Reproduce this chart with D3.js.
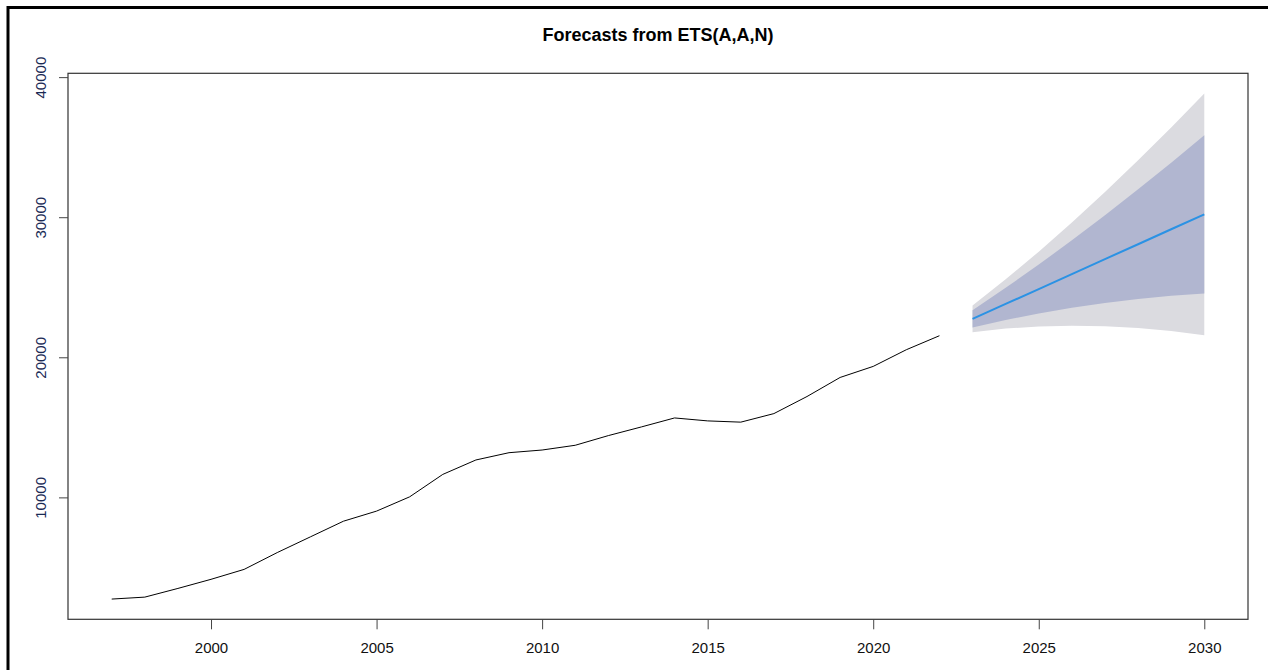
<!DOCTYPE html>
<html>
<head>
<meta charset="utf-8">
<script src="https://cdn.jsdelivr.net/npm/d3@7"></script>
<style>
  html, body { margin: 0; padding: 0; background: #ffffff; }
  svg { display: block; }
  text { font-family: "Liberation Sans", Arial, sans-serif; }
</style>
</head>
<body>
<svg id="chart" width="1268" height="670"></svg>
<script>
// Observed annual series
const years = [1997, 1998, 1999, 2000, 2001, 2002, 2003, 2004, 2005, 2006, 2007, 2008, 2009,
               2010, 2011, 2012, 2013, 2014, 2015, 2016, 2017, 2018, 2019, 2020, 2021, 2022];
const observed = [2740, 2880, 3500, 4150, 4860, 6060, 7180, 8300, 9020, 10040, 11640, 12670, 13190,
                  13380, 13720, 14410, 15030, 15670, 15460, 15370, 15980, 17200, 18560, 19350, 20540, 21540];

// Point forecasts and prediction intervals
const fcYears = [2023, 2024, 2025, 2026, 2027, 2028, 2029, 2030];
const fcMean  = [22740, 23810, 24870, 25940, 27010, 28070, 29140, 30200];
const lo80    = [22120, 22660, 23130, 23530, 23870, 24160, 24390, 24560];
const hi80    = [23360, 24960, 26620, 28350, 30140, 31990, 33890, 35850];
const lo95    = [21790, 22050, 22200, 22260, 22220, 22090, 21870, 21580];
const hi95    = [23690, 25570, 27540, 29620, 31800, 34060, 36410, 38830];

const xTicks = [2000, 2005, 2010, 2015, 2020, 2025, 2030];
const yTicks = [10000, 20000, 30000, 40000];
const title = "Forecasts from ETS(A,A,N)";

const svg = d3.select("#chart");
const W = 1268, H = 670;
const plot = { left: 68, right: 1248, top: 73.3, bottom: 619.3 };

svg.append("rect").attr("width", W).attr("height", H).attr("fill", "#ffffff");

// Outer frame (top and left edges)
svg.append("path")
  .attr("d", `M8,670 L8,7.5 L1268,7.5`)
  .attr("fill", "none").attr("stroke", "#000").attr("stroke-width", 3);

// Axis ranges padded 4% beyond the data, like base graphics
function padded(lo, hi) { const d = (hi - lo) * 0.04; return [lo - d, hi + d]; }
const allYears = years.concat(fcYears);
const allVals = observed.concat(lo95, hi95);

const x = d3.scaleLinear().domain(padded(d3.min(allYears), d3.max(allYears)))
  .range([plot.left, plot.right]);
const y = d3.scaleLinear().domain(padded(d3.min(allVals), d3.max(allVals)))
  .range([plot.bottom, plot.top]);

// 95% and 80% prediction bands
const band = (lo, hi) => d3.area()
  .x((d, i) => x(fcYears[i]))
  .y0((d, i) => y(lo[i]))
  .y1((d, i) => y(hi[i]));

svg.append("path").datum(fcYears).attr("d", band(lo95, hi95)).attr("fill", "#dbdbe0");
svg.append("path").datum(fcYears).attr("d", band(lo80, hi80)).attr("fill", "#b1b6d0");

// Forecast mean
svg.append("path").datum(fcMean)
  .attr("d", d3.line().x((d, i) => x(fcYears[i])).y(d => y(d)))
  .attr("fill", "none").attr("stroke", "#2b92e4").attr("stroke-width", 2);

// Observed series
svg.append("path").datum(observed)
  .attr("d", d3.line().x((d, i) => x(years[i])).y(d => y(d)))
  .attr("fill", "none").attr("stroke", "#000").attr("stroke-width", 1);

// Plot box
svg.append("rect")
  .attr("x", plot.left).attr("y", plot.top)
  .attr("width", plot.right - plot.left).attr("height", plot.bottom - plot.top)
  .attr("fill", "none").attr("stroke", "#333").attr("stroke-width", 1.2);

// X axis
const xAxis = svg.append("g")
  .attr("transform", `translate(0,${plot.bottom})`)
  .call(d3.axisBottom(x).tickValues(xTicks).tickFormat(d3.format("d")).tickSize(10).tickPadding(13));
xAxis.select(".domain").remove();
xAxis.selectAll("line").attr("stroke", "#444");
xAxis.selectAll("text").attr("font-size", 15).attr("fill", "#111")
  .style("font-family", "'Liberation Sans', Arial, sans-serif");

// Y axis with rotated labels
const yAxis = svg.append("g")
  .attr("transform", `translate(${plot.left},0)`)
  .call(d3.axisLeft(y).tickValues(yTicks).tickFormat(d3.format("d")).tickSize(9));
yAxis.select(".domain").remove();
yAxis.selectAll("line").attr("stroke", "#444");
yAxis.selectAll("text")
  .attr("transform", "rotate(-90)")
  .attr("x", 0).attr("y", -27).attr("dy", "0.35em")
  .attr("text-anchor", "middle")
  .attr("font-size", 15).attr("fill", "#1a2a55")
  .style("font-family", "'Liberation Sans', Arial, sans-serif");

// Title
svg.append("text")
  .attr("x", (plot.left + plot.right) / 2).attr("y", 41)
  .attr("text-anchor", "middle")
  .attr("font-size", 18).attr("font-weight", "bold").attr("fill", "#000")
  .text(title);
</script>
</body>
</html>
